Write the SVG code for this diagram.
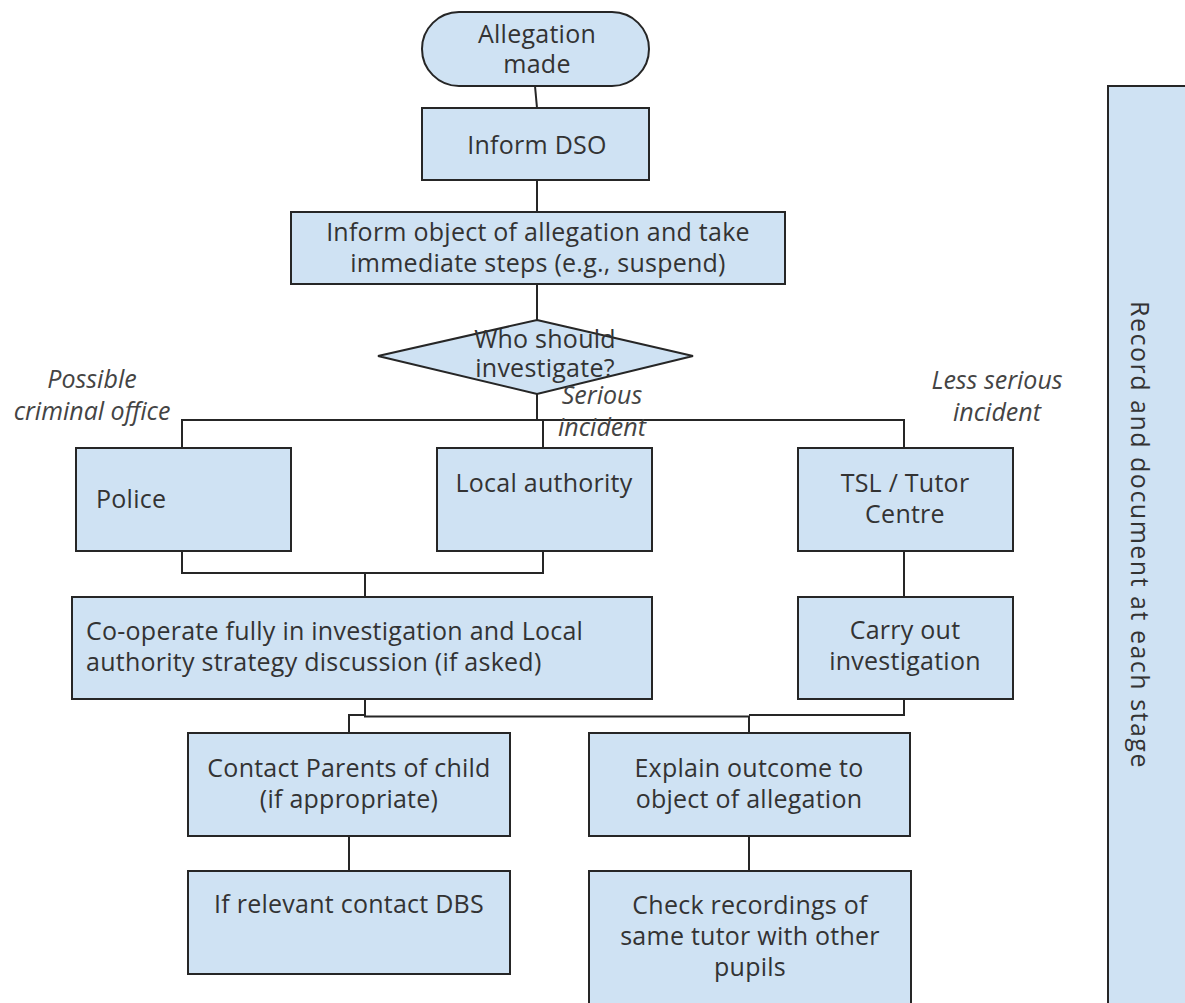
<svg xmlns="http://www.w3.org/2000/svg" width="1185" height="1003" viewBox="0 0 1185 1003">
<style>
.n{fill:#cfe2f3;stroke:#262626;stroke-width:2}
.t{font-family:"Open Sans","Noto Sans",sans-serif;font-size:25px;letter-spacing:0.25px;fill:#333}
.c{text-anchor:middle}
.i{font-family:"Open Sans","Noto Sans",sans-serif;font-size:25px;font-style:italic;fill:#444;text-anchor:middle}
.e{fill:none;stroke:#262626;stroke-width:2}
</style>
<rect width="1185" height="1003" fill="#fff"/>
<g id="connectors">
<path class="e" d="M535,86 L537,108"/>
<path class="e" d="M537,180 V212"/>
<path class="e" d="M537,284 V320"/>
<path class="e" d="M537,394 V420"/>
<path class="e" d="M182,448 V420 H904 V448"/>
<path class="e" d="M543,420 V448"/>
<path class="e" d="M182,551 V573 H543 V551"/>
<path class="e" d="M365,573 V597"/>
<path class="e" d="M904,551 V597"/>
<path class="e" d="M365,699 V715 H349 V733"/>
<path class="e" d="M365,699 V716.5 H749 V733"/>
<path class="e" d="M904,699 V715 H749"/>
<path class="e" d="M349,836 V871"/>
<path class="e" d="M749,836 V871"/>
</g>
<g id="allegation">
<rect class="n" x="422" y="12" width="227" height="74" rx="37"/>
<text class="t c" x="537" y="43">Allegation</text>
<text class="t c" x="537" y="73">made</text>
</g>
<g id="inform-dso">
<rect class="n" x="422" y="108" width="227" height="72"/>
<text class="t c" x="537" y="154">Inform DSO</text>
</g>
<g id="inform-object">
<rect class="n" x="291" y="212" width="494" height="72"/>
<text class="t c" x="538" y="241">Inform object of allegation and take</text>
<text class="t c" x="538" y="272">immediate steps (e.g., suspend)</text>
</g>
<g id="decision">
<polygon class="n" points="537,320 693,356 537,394 378,356"/>
<text class="t c" x="545" y="348">Who should</text>
<text class="t c" x="545" y="377">investigate?</text>
</g>
<g id="labels">
<text class="i" x="92" y="388">Possible</text>
<text class="i" x="92" y="420">criminal office</text>
<text class="i" x="602" y="404">Serious</text>
<text class="i" x="602" y="436">incident</text>
<text class="i" x="997" y="389">Less serious</text>
<text class="i" x="997" y="421">incident</text>
</g>
<g id="police">
<rect class="n" x="76" y="448" width="215" height="103"/>
<text class="t" x="96" y="508">Police</text>
</g>
<g id="local-authority">
<rect class="n" x="437" y="448" width="215" height="103"/>
<text class="t c" x="544" y="492">Local authority</text>
</g>
<g id="tsl">
<rect class="n" x="798" y="448" width="215" height="103"/>
<text class="t c" x="905" y="492">TSL / Tutor</text>
<text class="t c" x="905" y="523">Centre</text>
</g>
<g id="cooperate">
<rect class="n" x="72" y="597" width="580" height="102"/>
<text class="t" x="86" y="640">Co-operate fully in investigation and Local</text>
<text class="t" x="86" y="671">authority strategy discussion (if asked)</text>
</g>
<g id="carry-out">
<rect class="n" x="798" y="597" width="215" height="102"/>
<text class="t c" x="905" y="639">Carry out</text>
<text class="t c" x="905" y="670">investigation</text>
</g>
<g id="contact-parents">
<rect class="n" x="188" y="733" width="322" height="103"/>
<text class="t c" x="349" y="777">Contact Parents of child</text>
<text class="t c" x="349" y="808">(if appropriate)</text>
</g>
<g id="explain">
<rect class="n" x="589" y="733" width="321" height="103"/>
<text class="t c" x="749" y="777">Explain outcome to</text>
<text class="t c" x="749" y="808">object of allegation</text>
</g>
<g id="dbs">
<rect class="n" x="188" y="871" width="322" height="103"/>
<text class="t c" x="349" y="913">If relevant contact DBS</text>
</g>
<g id="check">
<rect class="n" x="589" y="871" width="322" height="150"/>
<text class="t c" x="750" y="914">Check recordings of</text>
<text class="t c" x="750" y="945">same tutor with other</text>
<text class="t c" x="750" y="976">pupils</text>
</g>
<g id="record">
<rect class="n" x="1108" y="86" width="100" height="940"/>
<text class="t c" style="letter-spacing:1.5px" transform="translate(1131,535) rotate(90)" x="0" y="0">Record and document at each stage</text>
</g>
</svg>
